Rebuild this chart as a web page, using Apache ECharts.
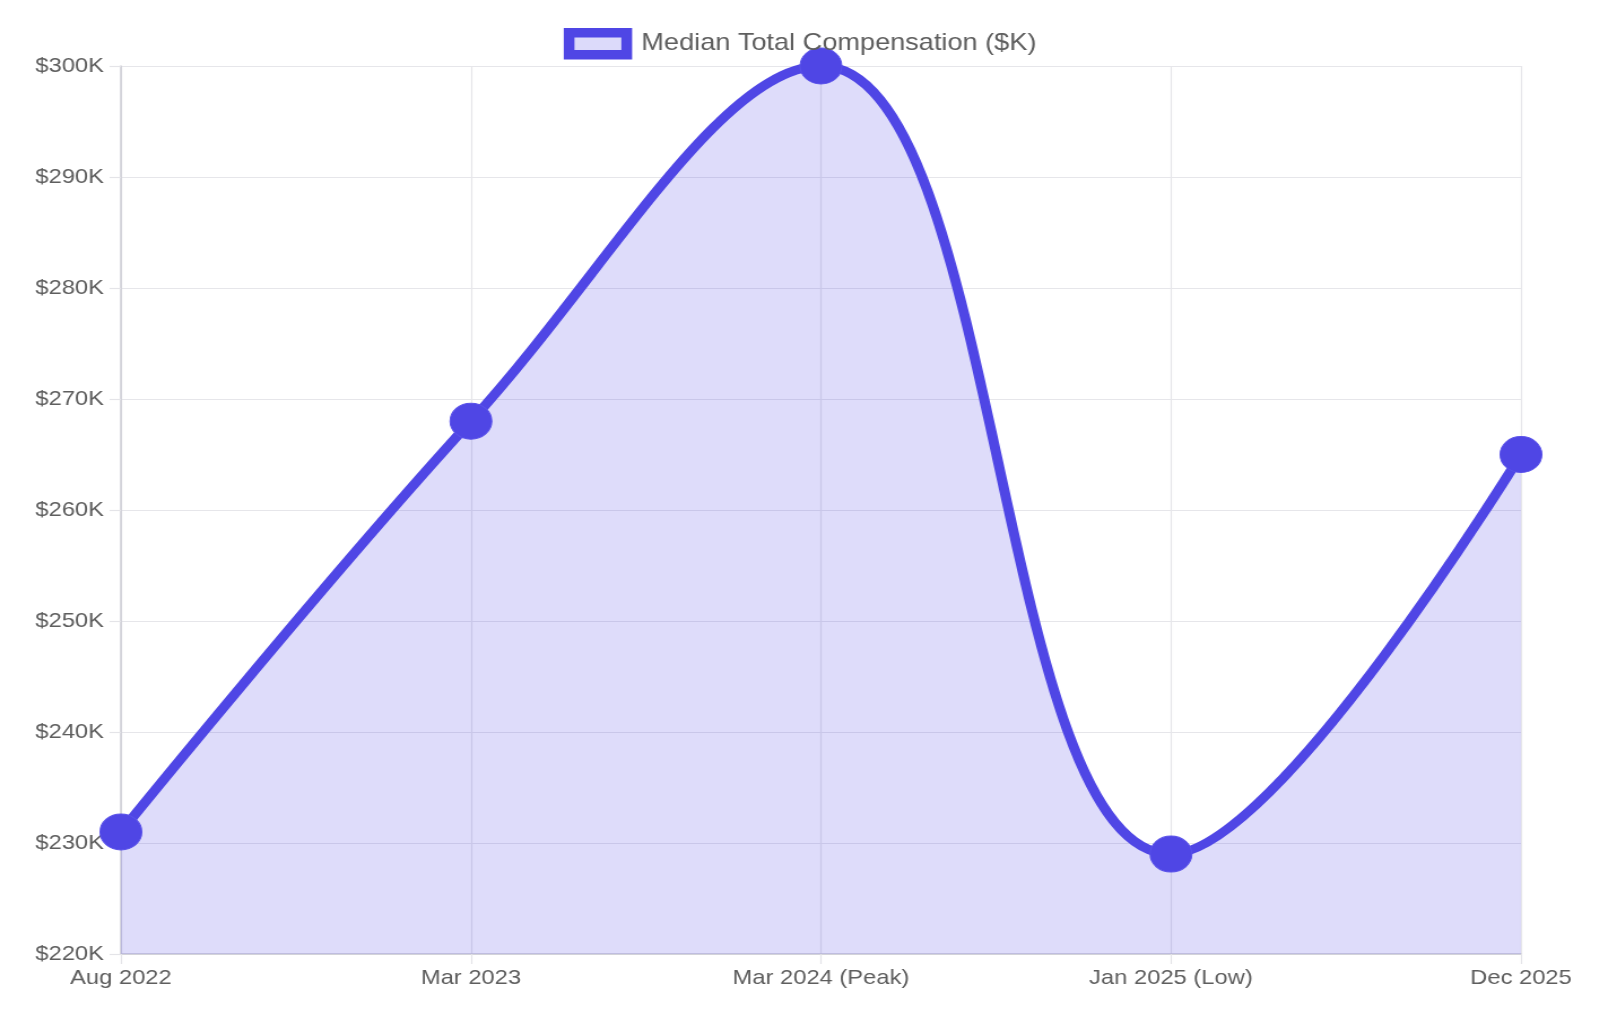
<!DOCTYPE html>
<html>
<head>
<meta charset="utf-8">
<script src="https://cdn.jsdelivr.net/npm/echarts@6/dist/echarts.min.js"></script>
<style>
html,body{margin:0;padding:0;background:#fff;overflow:hidden}
#c{width:1416px;height:1031px;transform:scaleX(1.13);transform-origin:0 0}
</style>
</head>
<body>
<div id="c"></div>
<script>
const categories = ['Aug 2022', 'Mar 2023', 'Mar 2024 (Peak)', 'Jan 2025 (Low)', 'Dec 2025'];
const compensation = [231, 268, 300, 229, 265];
const seriesName = 'Median Total Compensation ($K)';
const yMin = 220, yMax = 300, yStep = 10;

const chart = echarts.init(document.getElementById('c'));
const font = 'Liberation Sans, Arial, Helvetica, sans-serif';
const textColor = '#5e5e5e';
chart.setOption({
  animation: false,
  backgroundColor: '#fff',
  legend: {
    top: 23,
    left: 'center',
    itemWidth: 51,
    itemHeight: 22,
    itemGap: 10,
    icon: 'rect',
    textStyle: { fontFamily: font, fontSize: 24, color: textColor, padding: [0, 0, 0, 8] },
    itemStyle: { color: 'rgba(79,70,229,0.2)', borderColor: '#4f46e5', borderWidth: 9.5 }
  },
  grid: { left: 107, right: 70, top: 66, bottom: 77, containLabel: false },
  xAxis: {
    type: 'category',
    data: categories,
    boundaryGap: false,
    axisLine: { lineStyle: { color: '#cdcdd4', width: 1.5 } },
    axisTick: { show: true, length: 10, lineStyle: { color: '#e4e4e8', width: 1.2 } },
    axisLabel: { fontFamily: font, fontSize: 21, color: textColor, margin: 14 },
    splitLine: { show: true, lineStyle: { color: '#e6e6ea', width: 1.2 } }
  },
  yAxis: {
    type: 'value',
    min: yMin, max: yMax, interval: yStep,
    axisLine: { show: true, lineStyle: { color: '#cdcdd4', width: 1.5 } },
    axisTick: { show: true, length: 10, lineStyle: { color: '#e4e4e8', width: 1.2 } },
    axisLabel: { fontFamily: font, fontSize: 21, color: textColor, margin: 15, formatter: v => '$' + v + 'K' },
    splitLine: { show: true, lineStyle: { color: '#e6e6ea', width: 1.2 } }
  },
  series: [{
    name: seriesName,
    type: 'line',
    data: compensation,
    smooth: 0.4,
    symbol: 'circle',
    symbolSize: [37, 36],
    lineStyle: { color: '#4f46e5', width: 9 },
    itemStyle: { color: '#4f46e5', borderColor: '#5a52ea', borderWidth: 1 },
    areaStyle: { color: 'rgba(79,70,229,0.19)', opacity: 1 },
    clip: false
  }]
});
</script>
</body>
</html>
